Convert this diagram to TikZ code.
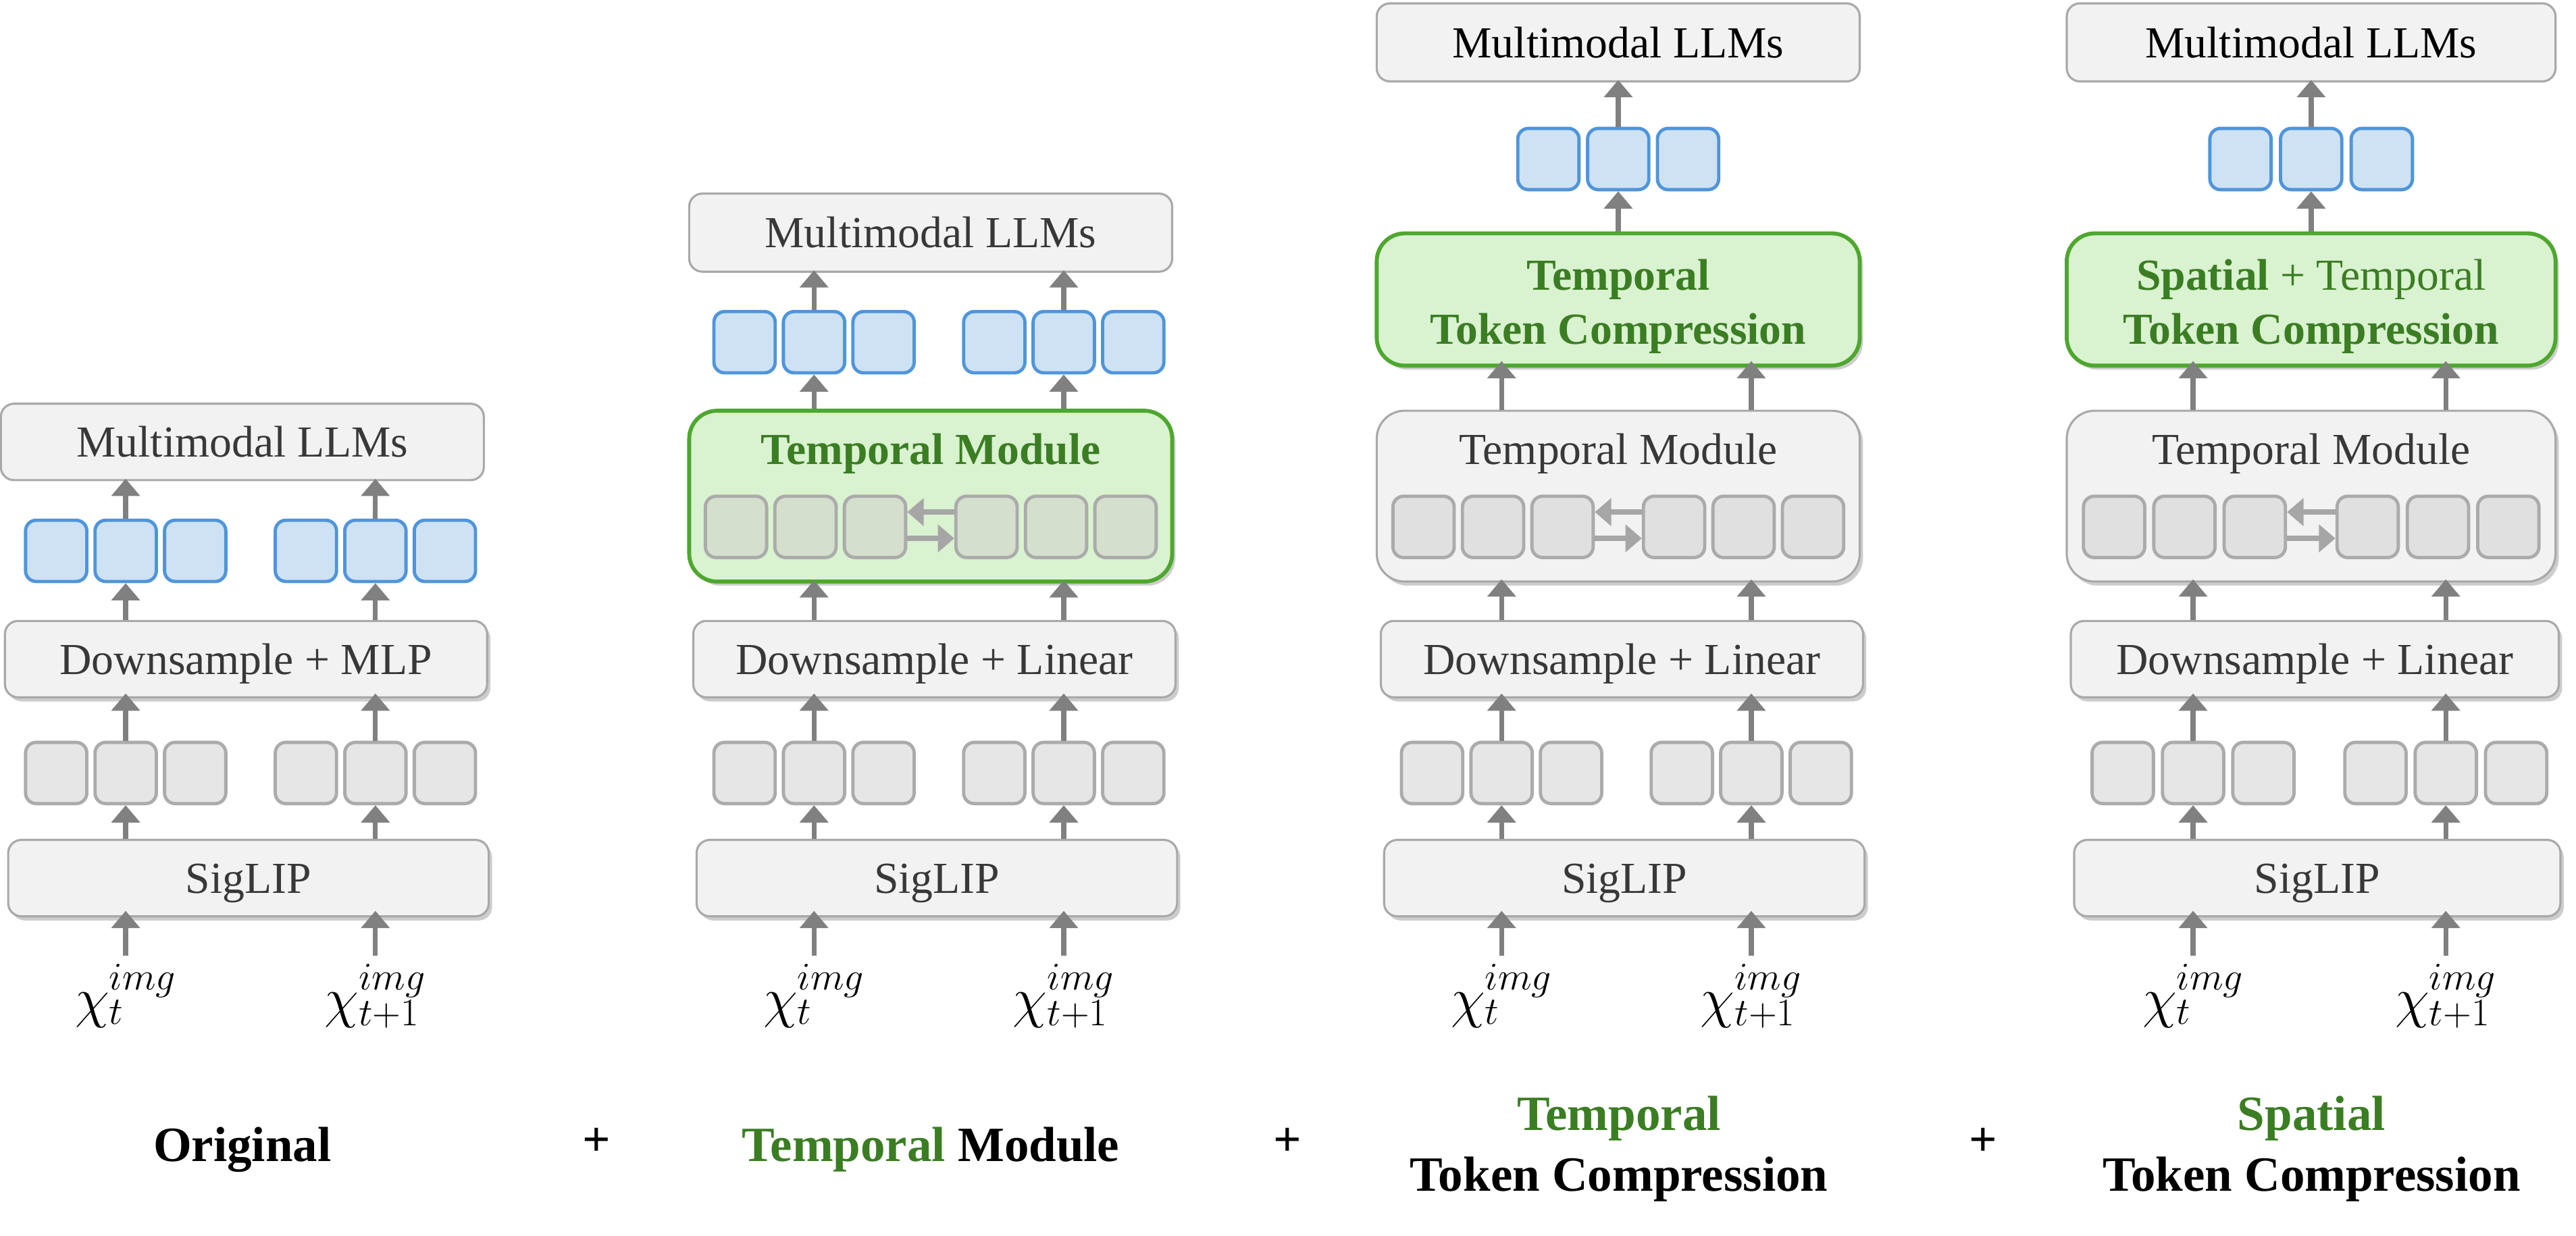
\RequirePackage{fix-cm}
\documentclass[tikz,border=0pt]{standalone}
\usepackage{fontspec}
\setmainfont{Liberation Serif}
\usetikzlibrary{arrows.meta,shadows,calc}

\definecolor{boxfill}{HTML}{F2F2F2}
\definecolor{boxline}{HTML}{A9A9A9}
\definecolor{txtgray}{HTML}{383838}
\definecolor{tokblue}{HTML}{4F95DB}
\definecolor{tokbluefill}{HTML}{CFE2F3}
\definecolor{tokgray}{HTML}{ABABAB}
\definecolor{tokgrayfill}{HTML}{E6E6E6}
\definecolor{tokinner}{HTML}{E0E0E0}
\definecolor{tokinnergrn}{HTML}{D4DFCD}
\definecolor{grnline}{HTML}{4EA72E}
\definecolor{grnfill}{HTML}{D9F2D0}
\definecolor{grntext}{HTML}{3B7D23}
\definecolor{arrgray}{HTML}{808080}
\definecolor{swapgray}{HTML}{A6A6A6}

\tikzset{
  bigbox/.style={draw=boxline, fill=boxfill, line width=1.3pt, rounded corners=8pt,
    minimum width=294pt, minimum height=46.5pt, inner sep=0pt, text=txtgray,
    font=\fontsize{27}{33}\selectfont, text height=18.5pt, text depth=0pt},
  shadowed/.style={drop shadow={shadow xshift=2pt, shadow yshift=-2.5pt, opacity=0.28, fill=black!70}},
  tokbase/.style={line width=2pt, rounded corners=6.5pt, minimum width=37.3pt,
    minimum height=37.3pt, inner sep=0pt},
  blutok/.style={tokbase, draw=tokblue, fill=tokbluefill},
  gratok/.style={tokbase, draw=tokgray, fill=tokgrayfill},
  intok/.style={tokbase, draw=tokgray, fill=tokinner},
  intokgrn/.style={tokbase, draw=tokgray, fill=tokinnergrn},
  grnbox/.style={draw=grnline, fill=grnfill, line width=2.4pt, rounded corners=17pt, inner sep=0pt},
  tmbox/.style={draw=boxline, fill=boxfill, line width=1.3pt, rounded corners=17pt, inner sep=0pt},
  ttl/.style={anchor=base, inner sep=0pt, font=\fontsize{27}{33}\selectfont},
  inlbl/.style={anchor=base, inner sep=0pt, font=\fontsize{34}{34}\selectfont},
  botlbl/.style={anchor=base, inner sep=0pt, font=\fontsize{30}{37}\selectfont\bfseries},
  conn/.style={draw=arrgray, line width=3pt, -{Triangle[width=17pt,length=10.5pt]}},
  xarrow/.style={draw=swapgray, line width=3.5pt, -{Triangle[width=16.5pt,length=10pt]}},
}

% #1 prefix, #2 left, #3 scale, #4 text of the downsample box
\newcommand{\lowstack}[4]{%
  \node[bigbox,shadowed,minimum width={292.5*#3}] (#1sig) at ({#2+4.5+146.25*#3},534.5) {SigLIP};
  \node[bigbox,shadowed,minimum width={293.5*#3}] (#1ds) at ({#2+2.5+146.75*#3},401.2) {#4};
  \foreach \i/\c in {1/33.7,2/76,3/118.3,4/185.7,5/228,6/270.3}{%
    \node[gratok] (#1g\i) at ({#2+#3*\c},470.5) {};}
  \node[inlbl] (#1xa) at ({#2+#3*76},619) {$\chi_t^{img}$};
  \node[inlbl] (#1xb) at ({#2+#3*228},619) {$\chi_{t+1}^{img}$};
  \foreach \k/\q in {2/a,5/b}{%
    \draw[conn,shorten <=5pt,shorten >=-4pt] (#1g\k |- #1x\q.north) -- (#1g\k |- #1sig.south);
    \draw[conn] (#1g\k |- #1sig.north) -- (#1g\k.south);
    \draw[conn,shorten >=-3pt] (#1g\k.north) -- (#1g\k |- #1ds.south);
  }%
}

% #1 prefix, #2 left, #3 scale, #4 box style, #5 token style, #6 title
\newcommand{\tmblock}[6]{%
  \node[#4, minimum width={294*#3}, minimum height=104pt] (#1tm) at ({#2+147*#3},302) {};
  \node[ttl] (#1tmt) at ({#2+147*#3},282.5) {#6};
  \foreach \i/\c in {1/28.5,2/70.8,3/113.1,4/181,5/223.3,6/265.6}{%
    \node[#5] (#1i\i) at ({#2+#3*\c},320.7) {};}
  \draw[xarrow] ($(#1i4.west)+(0,-9)$) -- ($(#1i3.east)+(0,-9)$);
  \draw[xarrow] ($(#1i3.east)+(0,7)$) -- ($(#1i4.west)+(0,7)$);
  \foreach \k in {2,5}{%
    \draw[conn,shorten >=-2pt] (#1g\k |- #1ds.north) -- (#1g\k |- #1tm.south);}%
}

% #1 prefix, #2 left, #3 scale, #4 first line, #5 second line
\newcommand{\ttcblock}[5]{%
  \node[grnbox,shadowed, minimum width={294*#3}, minimum height=80.5pt] (#1ttc) at ({#2+147*#3},182.3) {};
  \node[ttl,text=grntext] (#1ttca) at ({#2+147*#3},176.5) {#4};
  \node[ttl,text=grntext] (#1ttcb) at ({#2+147*#3},209.5) {#5};
  \foreach \k in {2,5}{%
    \draw[conn,shorten >=-4pt] (#1g\k |- #1tm.north) -- (#1g\k |- #1ttc.south);}%
  \foreach \i/\c in {1/104.5,2/147,3/189.5}{%
    \node[blutok] (#1b\i) at ({#2+#3*\c},96.8) {};}
  \node[bigbox, text=black, minimum width={294*#3}, minimum height=47.5pt] (#1mllm) at ({#2+147*#3},25.8) {Multimodal LLMs};
  \draw[conn] (#1b2 |- #1ttc.north) -- (#1b2.south);
  \draw[conn,shorten >=-1.5pt] (#1b2.north) -- (#1b2 |- #1mllm.south);
}

\begin{document}
\begin{tikzpicture}[x=1pt,y=-1pt]
\useasboundingbox (0,0) rectangle (1568,752);

% ---------------- column 1: Original
\lowstack{a}{0.5}{1}{Downsample + MLP}
\foreach \i/\c in {1/33.7,2/76,3/118.3,4/185.7,5/228,6/270.3}{%
  \node[blutok] (ab\i) at ({0.5+\c},335.3) {};}
\node[bigbox] (amllm) at (147.5,269) {Multimodal LLMs};
\foreach \k in {2,5}{%
  \draw[conn] (ab\k |- ads.north) -- (ab\k.south);
  \draw[conn,shorten >=-1.5pt] (ab\k.north) -- (ab\k |- amllm.south);}

% ---------------- column 2: + Temporal Module
\lowstack{b}{419.5}{1}{Downsample + Linear}
\tmblock{b}{419.5}{1}{grnbox,shadowed}{intokgrn}{\textcolor{grntext}{\bfseries Temporal Module}}
\foreach \i/\c in {1/33.7,2/76,3/118.3,4/185.7,5/228,6/270.3}{%
  \node[blutok] (bb\i) at ({419.5+\c},208.3) {};}
\node[bigbox, minimum height=47.5pt] (bmllm) at (566.5,141.6) {Multimodal LLMs};
\foreach \k in {2,5}{%
  \draw[conn] (bb\k |- btm.north) -- (bb\k.south);
  \draw[conn,shorten >=-1.5pt] (bb\k.north) -- (bb\k |- bmllm.south);}

% ---------------- column 3: + Temporal Token Compression
\lowstack{c}{838}{1}{Downsample + Linear}
\tmblock{c}{838}{1}{tmbox,shadowed}{intok}{\textcolor{txtgray}{Temporal Module}}
\ttcblock{c}{838}{1}{\bfseries Temporal}{\bfseries Token Compression}

% ---------------- column 4: + Spatial Token Compression
\lowstack{d}{1258}{1.012}{Downsample + Linear}
\tmblock{d}{1258}{1.012}{tmbox,shadowed}{intok}{\textcolor{txtgray}{Temporal Module}}
\ttcblock{d}{1258}{1.012}{\textbf{Spatial} + Temporal}{\bfseries Token Compression}

% ---------------- bottom captions
\node[botlbl] (capa) at (147.5,707) {Original};
\node[botlbl, anchor=center] (plusa) at (363,695) {+};
\node[botlbl] (capb) at (566.5,707) {\textcolor{grntext}{Temporal} Module};
\node[botlbl, anchor=center] (plusb) at (783.5,695) {+};
\node[botlbl, text=grntext] (capc1) at (985.5,688) {Temporal};
\node[botlbl] (capc2) at (985.5,725) {Token Compression};
\node[botlbl, anchor=center] (plusc) at (1207,695) {+};
\node[botlbl, text=grntext] (capd1) at (1407,688) {Spatial};
\node[botlbl] (capd2) at (1407,725) {Token Compression};
\end{tikzpicture}
\end{document}
